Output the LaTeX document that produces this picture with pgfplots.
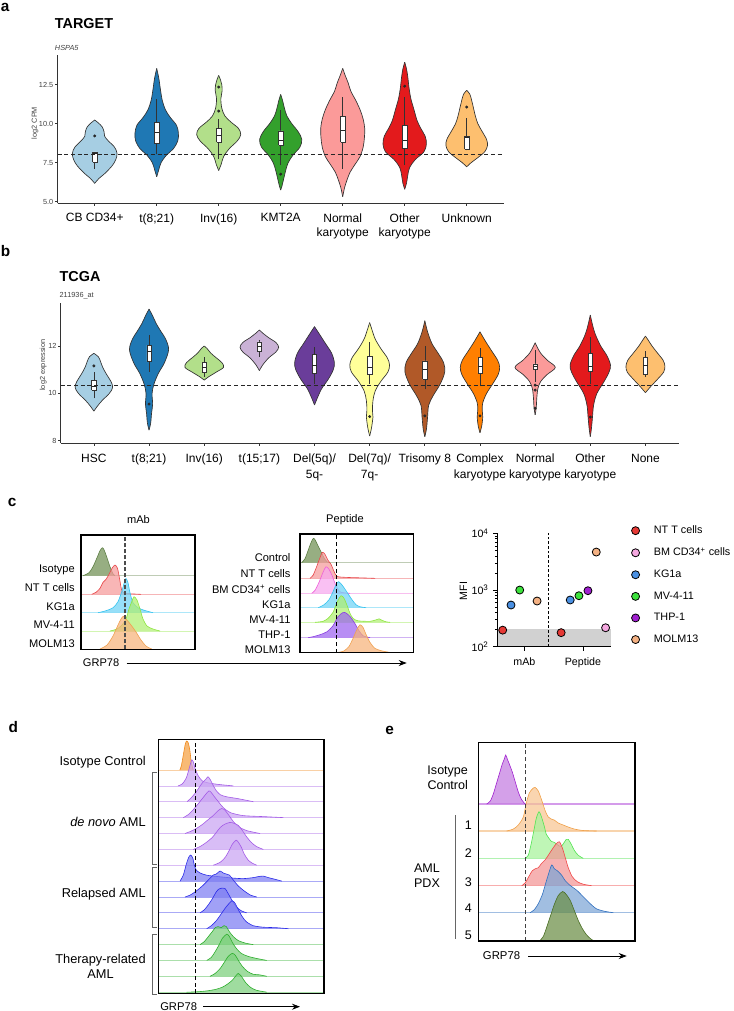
\documentclass[border=0pt]{standalone}
\usepackage{fontspec}
\setmainfont{Liberation Sans}
\usepackage{pgfplots}
\pgfplotsset{compat=1.18}
\usepgfplotslibrary{fillbetween}
\usetikzlibrary{arrows.meta}

\definecolor{vcol}{HTML}{333333}
\definecolor{pA}{HTML}{A6CEE3}
\definecolor{pB}{HTML}{1F78B4}
\definecolor{pC}{HTML}{B2DF8A}
\definecolor{pD}{HTML}{33A02C}
\definecolor{pE}{HTML}{FB9A99}
\definecolor{pF}{HTML}{E31A1C}
\definecolor{pG}{HTML}{FDBF6F}
\definecolor{pH}{HTML}{FF7F00}
\definecolor{pI}{HTML}{CAB2D6}
\definecolor{pJ}{HTML}{6A3D9A}
\definecolor{pK}{HTML}{FFFF99}
\definecolor{pL}{HTML}{B15928}
% histogram colours
\definecolor{olL}{HTML}{5E7F45}\definecolor{olF}{HTML}{6F8F52}
\definecolor{rdL}{HTML}{E8474A}\definecolor{rdF}{HTML}{F59A9A}
\definecolor{cyL}{HTML}{33C3F0}\definecolor{cyF}{HTML}{6FD3F5}
\definecolor{lgL}{HTML}{8EE53F}\definecolor{lgF}{HTML}{AEEE70}
\definecolor{orL}{HTML}{F0A050}\definecolor{orF}{HTML}{F6B37A}
\definecolor{mgL}{HTML}{EE5FD8}\definecolor{mgF}{HTML}{F7A8EF}
\definecolor{puL}{HTML}{8A3FE0}\definecolor{puF}{HTML}{9D63F0}
\definecolor{dOr}{HTML}{F08A1E}\definecolor{dOrF}{HTML}{F5A040}
\definecolor{dPu}{HTML}{A35BE6}\definecolor{dPuF}{HTML}{C9A3F2}
\definecolor{dBl}{HTML}{2B2BE8}\definecolor{dBlF}{HTML}{7D7DF2}
\definecolor{dGr}{HTML}{2EAE2E}\definecolor{dGrF}{HTML}{7ACF7A}
\definecolor{ePu}{HTML}{A020D0}\definecolor{ePuF}{HTML}{C47CE0}
\definecolor{eOr}{HTML}{F0A048}\definecolor{eOrF}{HTML}{F8C592}
\definecolor{eGr}{HTML}{52E352}\definecolor{eGrF}{HTML}{A6F29A}
\definecolor{eRd}{HTML}{F04848}\definecolor{eRdF}{HTML}{F39494}
\definecolor{eBl}{HTML}{2F6FBF}\definecolor{eBlF}{HTML}{7DA5D6}
\definecolor{eOl}{HTML}{4A6E24}\definecolor{eOlF}{HTML}{6B8E45}
% scatter colours
\definecolor{sNT}{HTML}{E53935}
\definecolor{sBM}{HTML}{F5A8E0}
\definecolor{sKG}{HTML}{4A90E2}
\definecolor{sMV}{HTML}{3CE23C}
\definecolor{sTH}{HTML}{A020D0}
\definecolor{sMO}{HTML}{F4B183}

% violin: id, centre, colour, rows "y w"
\newcommand\vio[4]{%
\addplot[draw=vcol, line width=0.5pt, smooth, tension=0.55, name path=R#1] table[row sep=\\, x expr={#2+\thisrow{w}}, y=y]{y w\\ #4};
\addplot[draw=vcol, line width=0.5pt, smooth, tension=0.55, name path=L#1] table[row sep=\\, x expr={#2-\thisrow{w}}, y=y]{y w\\ #4};
\addplot[fill=#3, draw=none] fill between[of=R#1 and L#1];
}
% box: centre, wlo, q1, med, q3, whi, halfwidth
\newcommand\bx[7]{%
\addplot[draw=vcol, line width=0.45pt] coordinates {(#1,#2) (#1,#6)};
\addplot[fill=white, draw=vcol, line width=0.4pt] table[row sep=\\, x expr={#1+#7*\thisrow{s}}, y=y]{s y\\ -1 #3\\ 1 #3\\ 1 #5\\ -1 #5\\ -1 #3\\};
\addplot[draw=black!85, line width=0.7pt] table[row sep=\\, x expr={#1+#7*\thisrow{s}}, y=y]{s y\\ -1 #4\\ 1 #4\\};
}
% histogram: base, line colour, fill colour, rows "x h"
\newcommand\hg[4]{%
\addplot[draw=#2, fill=#3, fill opacity=0.72, line width=0.45pt, smooth, tension=0.45] table[row sep=\\, x=x, y expr={#1+\thisrow{h}}]{x h\\ #4};
}
% baseline: base, colour, width
\newcommand\bl[3]{\addplot[draw=#2, line width=0.6pt] coordinates {(0,#1) (#3,#1)};}

\begin{document}
\begin{tikzpicture}[x=0.75pt,y=-0.75pt]
\path (0,0) rectangle (734,1011);

% ---------------- panel labels -----------------
\begin{scope}[every node/.style={font=\bfseries\fontsize{11.5}{12}\selectfont, inner sep=0pt, anchor=base west}]
\node at (0.5,11.7) {a};
\node at (0.5,256) {b};
\node at (7.7,506) {c};
\node at (8.3,732.7) {d};
\node at (385,734) {e};
\end{scope}

% ================= PANEL A =================
\node[font=\bfseries\fontsize{10.8}{12}\selectfont, anchor=base west, inner sep=0] at (54.7,28.3) {TARGET};
\node[font=\itshape\fontsize{5.5}{6}\selectfont, anchor=base west, inner sep=0, text=black!75] at (54.7,50.3) {HSPA5};
\node[font=\fontsize{5.5}{6}\selectfont, rotate=90, text=black!75] at (35,123) {log2 CPM};

\begin{axis}[at={({57.5*0.75pt},{-203.3*0.75pt})}, anchor=south west, scale only axis,
  width=334.8pt, height=111.15pt, set layers,
  xmin=0.4, xmax=7.6, ymin=4.9, ymax=14.4,
  axis lines*=left, axis line style={black!80, line width=0.7pt},
  tick align=outside, major tick length=2pt, tick style={black!80, line width=0.5pt},
  xtick={1,2,3,4,5,6,7},
  xticklabels={{CB CD34+},{t(8;21)},{Inv(16)},{KMT2A},{Normal\\karyotype},{Other\\karyotype},{Unknown}},
  ytick={5,7.5,10,12.5}, yticklabels={5.0,7.5,10.0,12.5},
  yticklabel style={font=\fontsize{5.5}{6}\selectfont, text=black!75, inner sep=1pt},
  xticklabel style={font=\fontsize{9}{10.5}\selectfont, align=center, inner sep=0pt, yshift=-5.5pt}]
\vio{a1}{1}{pA}{6.18 0\\ 6.5 0.07\\ 6.8 0.16\\ 7.3 0.28\\ 7.7 0.34\\ 8.1 0.36\\ 8.5 0.32\\ 8.9 0.22\\ 9.2 0.16\\ 9.5 0.15\\ 9.8 0.12\\ 10.05 0.06\\ 10.24 0\\}
\vio{a2}{2}{pB}{6.6 0\\ 7.0 0.03\\ 7.5 0.07\\ 8.0 0.16\\ 8.4 0.27\\ 8.9 0.34\\ 9.4 0.35\\ 9.9 0.32\\ 10.4 0.22\\ 10.9 0.14\\ 11.5 0.09\\ 12.2 0.06\\ 12.9 0.035\\ 13.55 0\\}
\vio{a3}{3}{pC}{7.0 0\\ 7.4 0.04\\ 7.9 0.08\\ 8.4 0.17\\ 8.9 0.3\\ 9.3 0.355\\ 9.7 0.32\\ 10.1 0.2\\ 10.5 0.1\\ 11.0 0.05\\ 11.6 0.035\\ 12.1 0.055\\ 12.5 0.05\\ 12.8 0.03\\ 13.1 0\\}
\vio{a4}{4}{pD}{5.75 0\\ 6.0 0.02\\ 6.5 0.05\\ 7.0 0.08\\ 7.5 0.12\\ 8.0 0.2\\ 8.5 0.31\\ 9.0 0.34\\ 9.5 0.28\\ 10.0 0.18\\ 10.5 0.1\\ 11.0 0.06\\ 11.5 0.03\\ 11.88 0\\}
\vio{a5}{5}{pE}{5.32 0\\ 5.9 0.03\\ 6.4 0.07\\ 6.9 0.12\\ 7.4 0.2\\ 7.9 0.28\\ 8.5 0.33\\ 9.1 0.35\\ 9.7 0.355\\ 10.3 0.33\\ 10.9 0.28\\ 11.5 0.21\\ 12.1 0.13\\ 12.6 0.09\\ 13.1 0.04\\ 13.55 0\\}
\vio{a6}{6}{pF}{5.8 0\\ 6.2 0.03\\ 6.7 0.05\\ 7.2 0.08\\ 7.7 0.17\\ 8.2 0.31\\ 8.7 0.35\\ 9.2 0.33\\ 9.7 0.26\\ 10.2 0.2\\ 10.9 0.15\\ 11.6 0.1\\ 12.3 0.07\\ 13.0 0.05\\ 13.5 0.03\\ 13.95 0\\}
\vio{a7}{7}{pG}{7.24 0\\ 7.5 0.07\\ 7.8 0.17\\ 8.2 0.29\\ 8.6 0.335\\ 9.0 0.32\\ 9.5 0.25\\ 10.0 0.18\\ 10.5 0.14\\ 11.0 0.11\\ 11.5 0.08\\ 11.9 0.05\\ 12.14 0\\}
\bx{1}{7.13}{7.56}{8.12}{8.2}{8.2}{0.035}
\bx{2}{8.03}{8.73}{9.41}{10.11}{11.6}{0.035}
\bx{3}{7.77}{8.84}{9.26}{9.69}{10.33}{0.035}
\bx{4}{7.34}{8.62}{8.96}{9.54}{10.86}{0.035}
\bx{5}{7.13}{8.8}{9.58}{10.48}{11.71}{0.035}
\bx{6}{7.35}{8.41}{8.9}{9.9}{11.71}{0.035}
\bx{7}{8.3}{8.37}{9.1}{9.2}{10.39}{0.035}
\addplot[only marks, mark=*, mark size=0.9pt, black!85] coordinates {(1,9.22) (3,12.35) (3,10.81) (4,6.77) (6,12.41) (7,11.07)};
\addplot[black!85, line width=0.6pt, dash pattern=on 3pt off 2pt] coordinates {(0.4,8.04) (7.6,8.04)};
\end{axis}

% ================= PANEL B =================
\node[font=\bfseries\fontsize{10.8}{12}\selectfont, anchor=base west, inner sep=0] at (59.4,281.7) {TCGA};
\node[font=\fontsize{5.5}{6}\selectfont, anchor=base west, inner sep=0, text=black!75] at (59.4,297) {211936\_at};
\node[font=\fontsize{5.5}{6}\selectfont, rotate=90, text=black!75] at (43.3,365) {log2 expression};

\begin{axis}[at={({60.8*0.75pt},{-443.1*0.75pt})}, anchor=south west, scale only axis,
  width=463.3pt, height=105.3pt, set layers,
  xmin=0.4, xmax=11.6, ymin=7.9, ymax=13.83,
  axis lines*=left, axis line style={black!80, line width=0.7pt},
  tick align=outside, major tick length=2pt, tick style={black!80, line width=0.5pt},
  xtick={1,2,3,4,5,6,7,8,9,10,11},
  xticklabels={{HSC},{t(8;21)},{Inv(16)},{t(15;17)},{Del(5q)/\\5q-},{Del(7q)/\\7q-},{Trisomy 8},{Complex\\karyotype},{Normal\\karyotype},{Other\\karyotype},{None}},
  ytick={8,10,12}, yticklabels={8,10,12},
  yticklabel style={font=\fontsize{5.5}{6}\selectfont, text=black!75, inner sep=1pt},
  xticklabel style={font=\fontsize{9}{11.5}\selectfont, align=center, inner sep=0pt, yshift=-6pt}]
\vio{b1}{1}{pA}{9.25 0\\ 9.45 0.06\\ 9.7 0.15\\ 10.0 0.28\\ 10.25 0.34\\ 10.5 0.31\\ 10.8 0.23\\ 11.1 0.16\\ 11.35 0.12\\ 11.55 0.08\\ 11.69 0\\}
\vio{b2}{2}{pB}{8.45 0\\ 8.75 0.03\\ 9.15 0.045\\ 9.55 0.065\\ 10.0 0.055\\ 10.4 0.09\\ 10.85 0.17\\ 11.3 0.28\\ 11.85 0.355\\ 12.3 0.3\\ 12.6 0.22\\ 12.95 0.13\\ 13.3 0.06\\ 13.56 0\\}
\vio{b3}{3}{pC}{10.56 0\\ 10.7 0.08\\ 10.9 0.22\\ 11.1 0.35\\ 11.3 0.32\\ 11.5 0.22\\ 11.7 0.12\\ 11.9 0.05\\ 12.0 0\\}
\vio{b4}{4}{pI}{10.96 0\\ 11.2 0.06\\ 11.5 0.17\\ 11.75 0.3\\ 11.95 0.35\\ 12.15 0.3\\ 12.35 0.17\\ 12.55 0.06\\ 12.68 0\\}
\vio{b5}{5}{pJ}{9.51 0\\ 9.8 0.05\\ 10.2 0.13\\ 10.6 0.25\\ 11.0 0.34\\ 11.3 0.36\\ 11.7 0.31\\ 12.1 0.2\\ 12.5 0.09\\ 12.82 0\\}
\vio{b6}{6}{pK}{8.2 0\\ 8.5 0.03\\ 8.8 0.05\\ 9.0 0.06\\ 9.3 0.05\\ 9.7 0.06\\ 10.1 0.1\\ 10.5 0.2\\ 10.9 0.33\\ 11.2 0.36\\ 11.5 0.32\\ 11.9 0.2\\ 12.3 0.1\\ 12.7 0.04\\ 12.99 0\\}
\vio{b7}{7}{pL}{8.17 0\\ 8.5 0.03\\ 9.0 0.05\\ 9.5 0.07\\ 9.9 0.15\\ 10.4 0.28\\ 10.9 0.36\\ 11.3 0.34\\ 11.7 0.24\\ 12.1 0.13\\ 12.6 0.05\\ 13.07 0\\}
\vio{b8}{8}{pH}{8.34 0\\ 8.6 0.03\\ 9.0 0.05\\ 9.3 0.04\\ 9.6 0.05\\ 10.0 0.12\\ 10.4 0.23\\ 10.8 0.33\\ 11.1 0.357\\ 11.4 0.32\\ 11.8 0.21\\ 12.2 0.1\\ 12.6 0\\}
\vio{b9}{9}{pE}{9.09 0\\ 9.4 0.02\\ 9.8 0.03\\ 10.2 0.05\\ 10.5 0.1\\ 10.8 0.22\\ 11.1 0.366\\ 11.4 0.22\\ 11.7 0.1\\ 11.95 0.04\\ 12.14 0\\}
\vio{b10}{10}{pF}{8.17 0\\ 8.5 0.02\\ 9.0 0.04\\ 9.5 0.06\\ 10.0 0.12\\ 10.5 0.25\\ 10.9 0.34\\ 11.2 0.366\\ 11.6 0.3\\ 12.0 0.19\\ 12.5 0.09\\ 12.9 0.04\\ 13.31 0\\}
\vio{b11}{11}{pG}{10.03 0\\ 10.3 0.1\\ 10.6 0.22\\ 10.9 0.33\\ 11.15 0.353\\ 11.4 0.32\\ 11.7 0.22\\ 12.0 0.12\\ 12.25 0.05\\ 12.42 0\\}
\bx{1}{9.79}{10.14}{10.28}{10.56}{10.9}{0.04}
\bx{2}{10.92}{11.34}{11.76}{12.04}{12.47}{0.04}
\bx{3}{10.7}{10.9}{11.1}{11.3}{11.55}{0.04}
\bx{4}{11.55}{11.76}{11.97}{12.18}{12.25}{0.04}
\bx{5}{10.4}{10.85}{11.2}{11.65}{11.97}{0.04}
\bx{6}{10.4}{10.82}{11.11}{11.55}{12.18}{0.04}
\bx{7}{10.17}{10.59}{11.02}{11.37}{12.0}{0.04}
\bx{8}{10.31}{10.85}{11.13}{11.51}{11.9}{0.04}
\bx{9}{10.5}{11.0}{11.12}{11.25}{11.85}{0.04}
\bx{10}{10.4}{10.92}{11.13}{11.69}{12.4}{0.04}
\bx{11}{10.7}{10.8}{11.2}{11.51}{11.8}{0.04}
\addplot[only marks, mark=*, mark size=0.9pt, black!85] coordinates {(1,11.16) (2,9.55) (6,9.02) (7,9.05) (8,9.05) (9,10.35) (9,10.14) (9,9.37) (10,9.0)};
\addplot[black!85, line width=0.6pt, dash pattern=on 3pt off 2pt] coordinates {(0.4,10.35) (11.6,10.35)};
\end{axis}

% ================= PANEL C : histograms =================
\begin{scope}[every node/.style={font=\fontsize{8.3}{10}\selectfont, inner sep=0pt}]
\node at (138.5,520) {mAb};
\node at (345,520) {Peptide};
\node[anchor=east] at (75,570) {Isotype};
\node[anchor=east] at (75,588) {NT T cells};
\node[anchor=east] at (75,606.5) {KG1a};
\node[anchor=east] at (75,625) {MV-4-11};
\node[anchor=east] at (75,644) {MOLM13};
\node[anchor=east] at (290.7,557.7) {Control};
\node[anchor=east] at (290.7,573.3) {NT T cells};
\node[anchor=east] at (290.7,589) {BM CD34\textsuperscript{+} cells};
\node[anchor=east] at (290.7,605) {KG1a};
\node[anchor=east] at (290.7,620) {MV-4-11};
\node[anchor=east] at (290.7,635) {THP-1};
\node[anchor=east] at (290.7,649.3) {MOLM13};
\node[anchor=west] at (82.7,663) {GRP78};
\end{scope}
\draw[line width=0.6pt, -{Stealth[length=6pt,width=4.5pt]}] (126.7,663) -- (406.7,663);

\begin{axis}[at={({81*0.75pt},{-649.3*0.75pt})}, anchor=south west, scale only axis,
  width=85.5pt, height=85.7pt, xmin=0, xmax=114, ymin=0, ymax=114.3,
  xtick=\empty, ytick=\empty, axis on top, axis line style={line width=0.9pt}]
\bl{73.6}{olL!40}{114}
\hg{73.6}{olL}{olF}{2 0\\ 8 3\\ 12 9\\ 16 18\\ 19 25\\ 21.3 28\\ 23 26\\ 26 18\\ 29 9\\ 32 2\\ 34 0\\}
\bl{55}{rdL!40}{114}
\hg{55}{rdL}{rdF}{10.7 0\\ 15 2\\ 19 6\\ 22 12\\ 25 15\\ 28 20\\ 31 26\\ 34 29.3\\ 36.5 26\\ 38.5 16\\ 40.5 5\\ 43 1\\ 50 0.5\\ 60 0\\}
\bl{36.6}{cyL!40}{114}
\hg{36.6}{cyL}{cyF}{17 0\\ 25 2\\ 32 5\\ 37 11\\ 41 22\\ 43.5 31\\ 45 34.3\\ 47 30\\ 49 20\\ 52 10\\ 57 5\\ 63 2.5\\ 72 0\\}
\bl{18.3}{lgL!40}{114}
\hg{18.3}{lgL}{lgF}{29 0\\ 36 2\\ 41 6\\ 45 12\\ 48 22\\ 51 30\\ 53 34.3\\ 56 31\\ 59 22\\ 62 12\\ 66 5\\ 72 2\\ 79 0\\}
\bl{0.3}{orL!40}{114}
\hg{0.3}{orL}{orF}{19 0\\ 26 4\\ 32 13\\ 37 24\\ 40 30\\ 42.3 32.7\\ 45 30\\ 50 24\\ 55 17\\ 60 9\\ 65 3\\ 70.7 0\\}
\addplot[black!70, line width=1pt, dash pattern=on 3pt off 1.5pt] coordinates {(44,0) (44,114.3)};
\end{axis}

\begin{axis}[at={({300*0.75pt},{-652.7*0.75pt})}, anchor=south west, scale only axis,
  width=85pt, height=89pt, xmin=0, xmax=113.3, ymin=0, ymax=118.7,
  xtick=\empty, ytick=\empty, axis on top, axis line style={line width=0.9pt}]
\bl{90}{olL!40}{113.3}
\hg{90}{olL}{olF}{1.7 0\\ 5 4\\ 8 12\\ 11 20\\ 13.3 24.4\\ 15 23\\ 18 17\\ 21 11\\ 24 5\\ 27 1\\ 30 0\\}
\bl{74.4}{rdL!40}{113.3}
\hg{74.4}{rdL}{rdF}{10 0\\ 13 3\\ 16 10\\ 19 18\\ 22.3 26\\ 25 24\\ 28 18\\ 31 14\\ 34 7\\ 37 2\\ 45 1\\ 60 0.5\\ 75 0\\}
\bl{59.4}{mgL!40}{113.3}
\hg{59.4}{mgL}{mgF}{11.7 0\\ 15 3\\ 19 11\\ 23 21\\ 26 26.6\\ 29 24\\ 32 18\\ 35 10\\ 38 4\\ 41 1\\ 50 0\\}
\bl{45}{cyL!40}{113.3}
\hg{45}{cyL}{cyF}{18.3 0\\ 24 3\\ 29 8\\ 33 16\\ 36 23\\ 38.3 26\\ 41 24\\ 44 20\\ 48 14\\ 52 8\\ 56 3\\ 60 1\\ 66 0\\}
\bl{30.4}{lgL!40}{113.3}
\hg{30.4}{lgL}{lgF}{15 0\\ 23 1\\ 28 4\\ 33 10\\ 37 20\\ 41 26.6\\ 44 24\\ 47 17\\ 50 9\\ 53 4\\ 58 1.5\\ 70 1\\ 76 2.5\\ 79 3.5\\ 82 2\\ 86 0.5\\ 90 0\\}
\bl{15}{puL!40}{113.3}
\hg{15}{puL}{puF}{8 0\\ 13 1\\ 20 3\\ 27 6\\ 33 12\\ 38 21\\ 43.3 25.4\\ 47 24\\ 51 20\\ 55 14\\ 59 7\\ 63 2\\ 70 0\\}
\bl{0.3}{orL!40}{113.3}
\hg{0.3}{orL}{orF}{38 0\\ 44 1.5\\ 49 6\\ 53 14\\ 57 23\\ 60 27.7\\ 63 25\\ 66 18\\ 70 10\\ 75 4\\ 82 1.5\\ 90 0\\}
\addplot[black, line width=0.8pt, dash pattern=on 3pt off 2pt] coordinates {(36.7,0) (36.7,118.7)};
\end{axis}

% ================= PANEL C : scatter =================
\node[font=\fontsize{8}{10}\selectfont, rotate=90, inner sep=0] at (463.5,591) {MFI};
\begin{axis}[at={({497.3*0.75pt},{-646.7*0.75pt})}, anchor=south west, scale only axis,
  width=85.3pt, height=85pt, xmin=0.538, xmax=2.48, ymode=log, ymin=100, ymax=10000,
  axis lines*=left, axis line style={black, line width=0.8pt}, axis on top,
  tick align=outside, major tick length=3pt, minor tick length=1.8pt, tick style={black, line width=0.6pt},
  xtick={1,2}, xticklabels={mAb,Peptide},
  ytick={100,1000,10000}, yticklabels={10\textsuperscript{2},10\textsuperscript{3},10\textsuperscript{4}},
  minor ytick={200,300,400,500,600,700,800,900,2000,3000,4000,5000,6000,7000,8000,9000},
  ticklabel style={font=\fontsize{8}{10}\selectfont},
  xticklabel style={yshift=-2pt},
  legend cell align=left,
  legend image code/.code={\path (0cm,0cm) (0.705cm,0cm); \draw[#1] plot coordinates {(0.3cm,0cm)};},
  legend style={at={(1.111,1.093)}, anchor=north west, draw=none, fill=none, inner sep=0pt,
     font=\fontsize{8.1}{10}\selectfont, row sep=5.1pt}]
\addplot[fill=black!18, draw=none, forget plot] coordinates {(0.538,100) (2.48,100) (2.48,203) (0.538,203)};
\addplot[black, line width=0.5pt, dash pattern=on 2pt off 1.5pt, forget plot] coordinates {(1.411,100) (1.411,10000)};
\addplot[only marks, mark=*, mark size=3pt, mark options={fill=sNT, draw=black, line width=0.6pt}] coordinates {(0.630,196) (1.628,177)};
\addlegendentry{NT T cells}
\addplot[only marks, mark=*, mark size=3pt, mark options={fill=sBM, draw=black, line width=0.6pt}] coordinates {(2.387,216)};
\addlegendentry{BM CD34\textsuperscript{+} cells}
\addplot[only marks, mark=*, mark size=3pt, mark options={fill=sKG, draw=black, line width=0.6pt}] coordinates {(0.772,544) (1.783,667)};
\addlegendentry{KG1a}
\addplot[only marks, mark=*, mark size=3pt, mark options={fill=sMV, draw=black, line width=0.6pt}] coordinates {(0.921,1000) (1.932,794)};
\addlegendentry{MV-4-11}
\addplot[only marks, mark=*, mark size=3pt, mark options={fill=sTH, draw=black, line width=0.6pt}] coordinates {(2.086,973)};
\addlegendentry{THP-1}
\addplot[only marks, mark=*, mark size=3pt, mark options={fill=sMO, draw=black, line width=0.6pt}] coordinates {(1.217,640) (2.228,4680)};
\addlegendentry{MOLM13}
\end{axis}

% ================= PANEL D =================
\begin{scope}[every node/.style={font=\fontsize{9.6}{11.5}\selectfont, inner sep=0pt}]
\node[anchor=east] at (146,761.7) {Isotype Control};
\node[anchor=east] at (146,821.7) {\textit{de novo} AML};
\node[anchor=east] at (146,894.3) {Relapsed AML};
\node[anchor=east, align=center] at (146,966.5) {Therapy-related\\AML};
\end{scope}
\draw[black!60, line width=0.6pt] (157,772.3) -- (152,772.3) -- (152,864) -- (157,864);
\draw[black!60, line width=0.6pt] (157,867.7) -- (152,867.7) -- (152,927.7) -- (157,927.7);
\draw[black!60, line width=0.6pt] (157,934.3) -- (152,934.3) -- (152,994) -- (157,994);
\node[font=\fontsize{8.4}{10}\selectfont, anchor=west, inner sep=0] at (160,1006.7) {GRP78};
\draw[line width=0.6pt, -{Stealth[length=6pt,width=4.5pt]}] (203.3,1006.7) -- (300,1006.7);

\begin{axis}[at={({158.3*0.75pt},{-993.3*0.75pt})}, anchor=south west, scale only axis,
  width=124.3pt, height=190.5pt, xmin=0, xmax=165.7, ymin=0, ymax=254,
  xtick=\empty, ytick=\empty, axis on top, axis line style={line width=0.9pt}]
\bl{223.3}{dOr!40}{165.7}
\hg{223.3}{dOr}{dOrF}{21.5 0\\ 23 4\\ 25 15\\ 27 26\\ 28.4 29\\ 30 27\\ 31.5 20\\ 33 8\\ 35 0\\}
\bl{207.4}{dPu!40}{165.7}
\hg{207.4}{dPu}{dPuF}{19.7 0\\ 24 2\\ 28 8\\ 31 18\\ 33.4 26\\ 35 24\\ 37 17\\ 40 10\\ 44 5\\ 50 3\\ 60 1.5\\ 75 0\\}
\bl{191.6}{dPu!40}{165.7}
\hg{191.6}{dPu}{dPuF}{28.7 0\\ 33 4\\ 38 10\\ 42 16\\ 45 20\\ 48 23\\ 49.7 25\\ 52 22\\ 55 16\\ 58 11\\ 62 7\\ 68 5\\ 80 3\\ 95 0\\}
\bl{175.7}{dPu!40}{165.7}
\hg{175.7}{dPu}{dPuF}{25 0\\ 30 3\\ 35 8\\ 40 14\\ 44 19\\ 48 24\\ 50.7 26.7\\ 53 25\\ 56 21\\ 60 16\\ 65 10\\ 72 5\\ 85 2\\ 105 1\\ 125 0\\}
\bl{159.8}{dPu!40}{165.7}
\hg{159.8}{dPu}{dPuF}{26.7 0\\ 32 2\\ 38 5\\ 44 9\\ 50 14\\ 55 18\\ 60 23\\ 63.4 25\\ 66 24\\ 70 19\\ 75 12\\ 80 7\\ 88 3\\ 101.7 0\\}
\bl{143.9}{dPu!40}{165.7}
\hg{143.9}{dPu}{dPuF}{35 0\\ 42 3\\ 48 7\\ 54 12\\ 58 17\\ 62 22\\ 66 25\\ 71.7 27\\ 76 26\\ 80 24\\ 84 19\\ 88 13\\ 93 7\\ 98 3\\ 105 0\\}
\bl{128.1}{dPu!40}{165.7}
\hg{128.1}{dPu}{dPuF}{55 0\\ 62 3\\ 67 8\\ 71 15\\ 74 21\\ 77.7 25\\ 80 23\\ 83 18\\ 86 11\\ 90 5\\ 94 2\\ 98.4 0\\}
\bl{112.2}{dBl!40}{165.7}
\hg{112.2}{dBl}{dBlF}{21.7 0\\ 25 6\\ 28 17\\ 30.5 24\\ 32.4 26\\ 34.5 23\\ 36 16\\ 38 11\\ 42 8\\ 48 6\\ 55 5\\ 65 4\\ 75 3\\ 85 2.5\\ 95 3.5\\ 100 4.5\\ 105 5\\ 110 3.5\\ 116 2\\ 123.4 0\\}
\bl{96.3}{dBl!40}{165.7}
\hg{96.3}{dBl}{dBlF}{26.7 0\\ 32 2\\ 38 6\\ 44 11\\ 50 17\\ 55 22\\ 58 23\\ 61.7 26\\ 65 24\\ 68 23\\ 71 22\\ 75 17\\ 80 11\\ 86 6\\ 92 2\\ 98.4 0\\}
\bl{80.5}{dBl!40}{165.7}
\hg{80.5}{dBl}{dBlF}{41.7 0\\ 46 3\\ 50 8\\ 54 14\\ 58 21\\ 61 24\\ 64.7 24.7\\ 67 24\\ 70 19\\ 74 12\\ 78 6\\ 83 2\\ 88.4 0\\}
\bl{64.6}{dBl!40}{165.7}
\hg{64.6}{dBl}{dBlF}{48.4 0\\ 53 3\\ 58 8\\ 63 15\\ 68 22\\ 73.7 28\\ 77 25\\ 80 19\\ 84 12\\ 88 7\\ 95 3\\ 105 1.5\\ 118 1\\ 130 0\\}
\bl{48.7}{dGr!40}{165.7}
\hg{48.7}{dGr}{dGrF}{41.7 0\\ 46 3\\ 50 8\\ 54 13\\ 57 17\\ 59.7 18\\ 63 17\\ 65.7 19\\ 68 18\\ 71 13\\ 75 8\\ 80 4\\ 87 1.5\\ 95 0\\}
\bl{32.9}{dGr!40}{165.7}
\hg{32.9}{dGr}{dGrF}{48.4 0\\ 53 3\\ 57 9\\ 61 16\\ 64 22\\ 68.4 26.3\\ 71 24\\ 74 18\\ 78 12\\ 83 7\\ 90 4\\ 98 2\\ 108.4 0\\}
\bl{17}{dGr!40}{165.7}
\hg{17}{dGr}{dGrF}{51.7 0\\ 57 3\\ 62 8\\ 66 14\\ 70 20\\ 74 23\\ 77 21\\ 80 16\\ 84 10\\ 89 5\\ 95 2\\ 101 1.5\\ 108.4 0\\}
\bl{1.1}{dGr!40}{165.7}
\hg{1.1}{dGr}{dGrF}{28.4 0\\ 40 0.5\\ 50 1.5\\ 58 3\\ 64 5\\ 69 8\\ 74 12\\ 78 17\\ 80 18.7\\ 83 16\\ 87 10\\ 92 5\\ 98 2\\ 108.4 0\\}
\addplot[black, line width=0.9pt, dash pattern=on 3pt off 2pt] coordinates {(37.4,0) (37.4,254)};
\end{axis}

% ================= PANEL E =================
\begin{scope}[every node/.style={font=\fontsize{9.4}{11.5}\selectfont, inner sep=0pt}]
\node[align=center] at (447.7,778) {Isotype\\Control};
\node at (468.3,825) {1};
\node at (468.3,853.3) {2};
\node at (468.3,881.7) {3};
\node at (468.3,908.3) {4};
\node at (468.3,935) {5};
\node[align=center] at (427,875.5) {AML\\PDX};
\end{scope}
\draw[black!60, line width=0.6pt] (455.7,815) -- (455.7,939.3);
\node[font=\fontsize{8.5}{10}\selectfont, anchor=west, inner sep=0] at (482.7,956) {GRP78};
\draw[line width=0.6pt, -{Stealth[length=6pt,width=4.5pt]}] (528.3,956) -- (626.7,956);

\begin{axis}[at={({478.3*0.75pt},{-941*0.75pt})}, anchor=south west, scale only axis,
  width=117.5pt, height=148.7pt, xmin=0, xmax=156.7, ymin=0, ymax=198.3,
  xtick=\empty, ytick=\empty, axis on top, axis line style={line width=0.9pt}]
\addplot[draw=ePu!45, line width=1.3pt] coordinates {(0,137) (156.7,137)};
\hg{137}{ePu}{ePuF}{8.4 0\\ 12 3\\ 15 10\\ 18 20\\ 21 30\\ 24 40\\ 26 45\\ 27.4 49\\ 29 45\\ 31 40\\ 34 32\\ 37 22\\ 40 12\\ 43 5\\ 46.7 0\\}
\addplot[draw=eOr!45, line width=1pt] coordinates {(0,110) (156.7,110)};
\hg{110}{eOr}{eOrF}{28.4 0\\ 35 2\\ 40 6\\ 45 14\\ 48 28\\ 51 38\\ 54 42\\ 56.7 43.7\\ 60 40\\ 63 32\\ 67 20\\ 70 14\\ 73 12\\ 76 11\\ 80 8\\ 85 6\\ 90 4\\ 96 2\\ 105 0.5\\ 118.4 0\\}
\addplot[draw=eGr!45, line width=1pt] coordinates {(0,82.7) (156.7,82.7)};
\hg{82.7}{eGr}{eGrF}{46.7 0\\ 50 3\\ 53 15\\ 56 30\\ 58 40\\ 60.7 46.6\\ 63 42\\ 66 32\\ 68 24\\ 70 21\\ 73 17\\ 76 16\\ 80 13\\ 83 12\\ 86 16\\ 88 19\\ 90 19\\ 93 14\\ 96 8\\ 100 3\\ 105 0\\}
\addplot[draw=eRd!45, line width=1pt] coordinates {(0,55.3) (156.7,55.3)};
\hg{55.3}{eRd}{eRdF}{43.4 0\\ 47 3\\ 51 10\\ 54 15\\ 57 17\\ 60 18\\ 63 22\\ 67 26\\ 71 32\\ 75 38\\ 78 42\\ 81 44\\ 84 38\\ 87 28\\ 90 18\\ 94 9\\ 99 4\\ 105 1.5\\ 113.4 0\\}
\addplot[draw=eBl!45, line width=1pt] coordinates {(0,28.3) (156.7,28.3)};
\hg{28.3}{eBl}{eBlF}{51.7 0\\ 56 3\\ 60 9\\ 64 18\\ 67 28\\ 70 38\\ 73.4 47.7\\ 76 44\\ 79 42\\ 83 38\\ 87 32\\ 91 28\\ 95 25\\ 99 22\\ 103 18\\ 107 14\\ 112 9\\ 118 4\\ 126 1.5\\ 135 0\\}
\addplot[draw=eOl!45, line width=1pt] coordinates {(0,0.5) (156.7,0.5)};
\hg{0.5}{eOl}{eOlF}{61.7 0\\ 65 4\\ 68 12\\ 72 24\\ 76 36\\ 80 45\\ 84.4 49\\ 88 46\\ 92 40\\ 96 30\\ 100 20\\ 104 12\\ 108 6\\ 112 2\\ 115 0\\}
\addplot[black!75, line width=0.9pt, dash pattern=on 3pt off 2pt] coordinates {(47.4,0) (47.4,198.3)};
\end{axis}

\pgfresetboundingbox
\path (0,0) rectangle (734,1011);
\end{tikzpicture}
\end{document}
